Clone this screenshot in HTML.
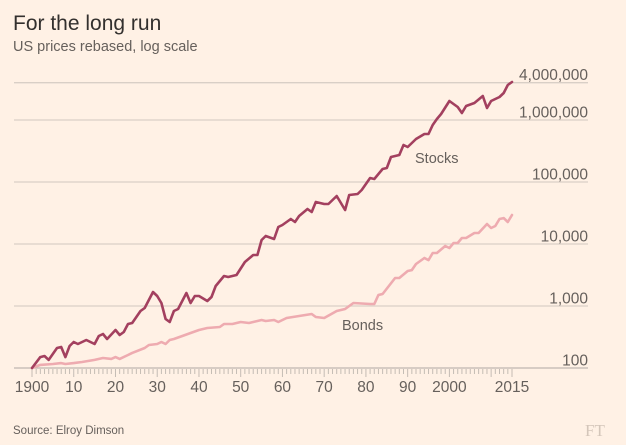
<!DOCTYPE html>
<html><head><meta charset="utf-8"><style>
html,body{margin:0;padding:0;background:#fff1e5;}
svg{display:block;font-family:"Liberation Sans",sans-serif;}
</style></head><body>
<svg id="c" width="626" height="445" viewBox="0 0 626 445">
<rect width="626" height="445" fill="#fff1e5"/>
<text x="13" y="30" font-size="21" fill="#33302e">For the long run</text>
<text x="13" y="51" font-size="14.5" fill="#66605c">US prices rebased, log scale</text>
<g id="grid"></g>
<g id="xaxis"></g>
<g id="series"></g>
<text x="415" y="163" font-size="14.5" fill="#66605c">Stocks</text>
<text x="342" y="330" font-size="14.5" fill="#66605c">Bonds</text>
<text x="13" y="434" font-size="11.5" fill="#66605c">Source: Elroy Dimson</text>
<text x="585" y="436" font-size="17" font-family="Liberation Serif,serif" fill="#d4c6ba">FT</text>
</svg>
<script>
const yTicks=[100,1000,10000,100000,1000000,4000000];
const yTickLabels=["100","1,000","10,000","100,000","1,000,000","4,000,000"];
const xTicks=[1900,1910,1920,1930,1940,1950,1960,1970,1980,1990,2000,2015];
const xTickLabels=["1900","10","20","30","40","50","60","70","80","90","2000","2015"];
const stockYears=[1900,1902,1903,1904,1906,1907,1908,1909,1910,1911,1913,1915,1916,1917,1918,1920,1921,1922,1923,1924,1926,1927,1929,1930,1931,1932,1933,1934,1935,1937,1938,1939,1940,1942,1943,1944,1946,1947,1949,1951,1953,1954,1955,1956,1958,1959,1960,1962,1963,1964,1966,1967,1968,1970,1971,1973,1975,1976,1978,1979,1981,1982,1984,1985,1986,1988,1989,1990,1992,1994,1995,1996,1997,1998,2000,2002,2003,2004,2006,2008,2009,2010,2012,2013,2014,2015];
const stockValues=[100,150,156,135,210,218,150,226,263,244,283,244,328,353,294,410,340,381,513,532,830,929,1682,1449,1117,617,552,830,895,1622,1117,1449,1449,1205,1397,2103,3050,2938,3162,5129,6656,6656,11610,13460,12050,18800,20240,25290,22640,28300,36700,32800,47500,44200,44200,59400,35300,61700,64000,74300,116100,111700,162200,168300,252900,272300,395400,367000,494000,594000,594000,830000,1037000,1250000,2024000,1622000,1297000,1683000,1881000,2440000,1563000,2024000,2350000,2723000,3670000,4100000];
const bondYears=[1900,1902,1905,1907,1908,1910,1912,1915,1917,1919,1920,1921,1923,1924,1927,1928,1930,1931,1932,1933,1934,1936,1938,1940,1942,1945,1946,1948,1950,1952,1955,1956,1958,1959,1961,1964,1967,1968,1970,1973,1975,1977,1981,1982,1983,1984,1987,1988,1990,1991,1992,1994,1995,1996,1997,1999,2000,2001,2002,2003,2004,2006,2007,2009,2010,2011,2012,2013,2014,2015];
const bondValues=[100,112,116,120,116,120,125,135,145,140,150,140,162,175,210,235,244,263,244,283,294,328,367,410,442,458,513,513,552,532,594,573,594,552,640,690,743,665,640,830,895,1117,1077,1077,1503,1560,2830,2830,3670,3800,4750,5940,5500,7160,7160,9290,8620,10370,10370,12500,12500,15030,15030,21000,18100,19490,25300,26200,22600,29400];

const NS='http://www.w3.org/2000/svg';
function xs(yr){return 32+(yr-1900)*4.174;}
function ys(v){return 368-(Math.log10(v)-2)*62;}
function mk(tag,attrs,parent){const e=document.createElementNS(NS,tag);for(const k in attrs)e.setAttribute(k,attrs[k]);parent.appendChild(e);return e;}
const grid=document.getElementById('grid');
yTicks.forEach((v,i)=>{
  const y=ys(v);
  const l=mk('line',{x1:14,x2:588,y1:y,y2:y,stroke:i===0?'#bfb7b0':'#d9cfc6','stroke-width':1.3},grid);
  
  
  const t=mk('text',{x:588,y:y-2.5,'text-anchor':'end','font-size':15.5,fill:'#66605c'},grid);
  t.textContent=yTickLabels[i];
  
  
});
const xa=document.getElementById('xaxis');
for(let yr=1900;yr<=2015;yr++){
  const x=xs(yr);const major=yr%10===0||yr===2015;
  const tk=mk('line',{x1:x,x2:x,y1:369,y2:major?377:374,stroke:'#c4bcb4','stroke-width':1},xa);
  
  
}
xTicks.forEach((yr,i)=>{
  const t=mk('text',{x:xs(yr),y:392,'text-anchor':'middle','font-size':15.5,fill:'#66605c'},xa);
  t.textContent=xTickLabels[i];
  
  
});
const sg=document.getElementById('series');
function line(years,vals,color,w,name){
  const d=years.map((yr,i)=>(i?'L':'M')+xs(yr).toFixed(1)+','+ys(vals[i]).toFixed(1)).join('');
  const p=mk('path',{d:d,fill:'none',stroke:color,'stroke-width':w,'stroke-linejoin':'round','stroke-linecap':'round'},sg);
  
  
}
line(bondYears,bondValues,'#eeabb0',2.6,'bonds-line');
line(stockYears,stockValues,'#a3405f',2.6,'stocks-line');
</script>
</body></html>
